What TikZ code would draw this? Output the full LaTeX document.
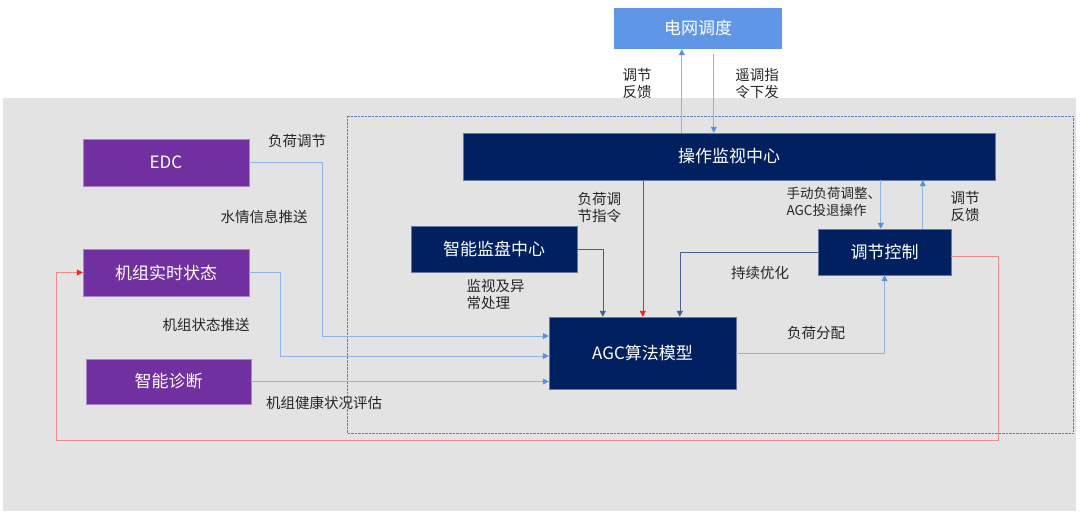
\documentclass[tikz,border=0pt]{standalone}
\usepackage{fontspec}
\setmainfont{Noto Sans CJK SC}
\usetikzlibrary{positioning, arrows.meta, calc}
\definecolor{bggray}{HTML}{E3E3E3}
\definecolor{gridblue}{HTML}{5F96E6}
\definecolor{unitpurple}{HTML}{7030A0}
\definecolor{navy}{HTML}{002060}
\definecolor{feedline}{HTML}{8DB4E2}
\definecolor{feedtip}{HTML}{5B8FE0}
\definecolor{navyline}{HTML}{44608F}
\definecolor{cmdred}{HTML}{FF2020}
\definecolor{backred}{HTML}{F08A8A}
\definecolor{frameblue}{HTML}{5B7FC0}

\begin{document}
\begin{tikzpicture}[
  x=1pt, y=-1pt,
  every node/.style={font=\fontsize{14.5}{17}\selectfont, text=black!85},
  box/.style={rectangle, inner sep=0pt, text=white,
              font=\fontsize{17}{20}\selectfont},
  unitbox/.style={box, fill=unitpurple, draw=unitpurple!60!white},
  navybox/.style={box, fill=navy, draw=navy!60!white},
  gridbox/.style={box, fill=gridblue},
  feed/.style={draw=feedline, thick, -{Triangle[length=6pt,width=6pt,fill=feedtip,color=feedtip]}},
  navyarrow/.style={draw=navyline, semithick, -{Triangle[length=6pt,width=6pt]}},
  cmdarrow/.style={draw=cmdred, semithick, -{Triangle[length=6pt,width=6pt]}},
  backarrow/.style={draw=backred, thick, -{Triangle[length=6pt,width=6pt,fill=cmdred,color=cmdred]}},
  lbl/.style={align=center},
  lbll/.style={align=left},
]
  \useasboundingbox (0,0) rectangle (1080,518);
  % background and plant frame
  \fill[bggray] (3,98) rectangle (1076,511);
  \draw[frameblue, densely dotted] (347,116) rectangle (1073,433);

  % boxes
  \node[gridbox, minimum width=168, minimum height=41] (grid) at (698,28.5) {电网调度};
  \node[navybox, minimum width=532, minimum height=47] (ops) at (729,156.5) {操作监视中心};
  \node[unitbox, minimum width=166, minimum height=47] (edc) at (166,162.5) {EDC};
  \node[unitbox, minimum width=166, minimum height=47] (state) at (166,272.5) {机组实时状态};
  \node[unitbox, minimum width=165, minimum height=45] (diag) at (168.5,381.5) {智能诊断};
  \node[navybox, minimum width=166, minimum height=46] (mon) at (494,249) {智能监盘中心};
  \node[navybox, minimum width=187, minimum height=72] (agc) at (642.5,353) {AGC算法模型};
  \node[navybox, minimum width=133, minimum height=46] (ctrl) at (884.5,252) {调节控制};

  % ports
  \coordinate (gridA) at ($(ops.north west)+(219,0)$);
  \coordinate (gridB) at ($(ops.north west)+(251,0)$);
  \coordinate (agcA) at ($(agc.north west)+(54,0)$);
  \coordinate (agcB) at ($(agc.north west)+(94,0)$);
  \coordinate (agcC) at ($(agc.north west)+(131,0)$);
  \coordinate (ctrlA) at ($(ctrl.north west)+(63,0)$);
  \coordinate (ctrlB) at ($(ctrl.north west)+(105,0)$);

  % grid dispatch
  \draw[feed] (gridA) -- (gridA |- grid.south);
  \draw[feed] ($(gridB |- grid.south)+(0,5)$) -- (gridB);

  % inputs to AGC
  \draw[feed] (edc.east) -- ++(73,0) |- ($(agc.west)+(0,-17)$);
  \draw[feed] (state.east) -- ++(31,0) |- ($(agc.west)+(0,3)$);
  \draw[feed] (diag.east) -- (agc.west |- diag.east);
  \draw[navyarrow] (mon.east) -| (agcA);
  \draw[cmdarrow] (agcB |- ops.south) -- (agcB);
  \draw[navyarrow] (ctrl.west) -| (agcC);

  % control loop
  \draw[feed] (agc.east) -| (ctrl.south);
  \draw[feed] (ctrlA |- ops.south) -- (ctrlA);
  \draw[feed] (ctrlB) -- (ctrlB |- ops.south);
  \draw[backarrow] ($(ctrl.east)+(0,4)$) -- ++(47,0) -- ++(0,184) -| ($(state.west)+(-26,0)$) -- (state.west);

  % labels
  \node[lbl] (lfb1) at (637,84) {调节\\反馈};
  \node[lbl] (lcmd) at (757,84) {遥调指\\令下发};
  \node[lbl] (lload) at (297,141) {负荷调节};
  \node[lbl] (lwater) at (264,217) {水情信息推送};
  \node[lbl] (lstate) at (206,325) {机组状态推送};
  \node[lbl] (lhealth) at (324,403) {机组健康状况评估};
  \node[lbll, anchor=west] (lmon) at (463,295) {监视及异\\常处理};
  \node[lbll, anchor=west] (lopscmd) at (574,208) {负荷调\\节指令};
  \node[lbl] (lopt) at (760,273) {持续优化};
  \node[lbl] (lalloc) at (816,333) {负荷分配};
  \node[lbll, anchor=west, font=\fontsize{13.5}{17.5}\selectfont] (lmanual) at (783,202) {手动负荷调整、\\AGC投退操作};
  \node[lbl] (lfb2) at (965,207) {调节\\反馈};
\end{tikzpicture}
\end{document}
